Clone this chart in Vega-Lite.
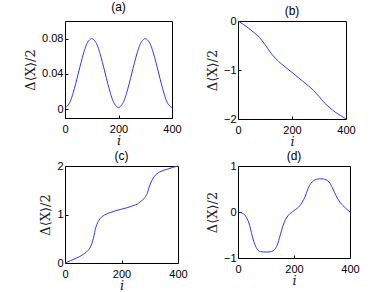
{
  "$schema": "https://vega.github.io/schema/vega-lite/v6.json",
  "autosize": {"type": "pad"},
  "padding": {"left": 24, "top": 0, "right": 0, "bottom": 0},
  "background": "white",
  "config": {
    "view": {"stroke": "black", "strokeWidth": 1},
    "axis": {
      "grid": false,
      "domain": false,
      "labelFont": "Liberation Sans",
      "labelFontSize": 11,
      "labelColor": "black",
      "labelFlush": false,
      "labelOverlap": false,
      "tickColor": "black",
      "tickSize": -3,
      "titleFont": "DejaVu Serif",
      "titleFontWeight": "normal",
      "titleColor": "#222222",
      "minExtent": 0
    },
    "axisX": {"labelPadding": 8, "titleFontStyle": "italic", "titleFontSize": 13, "titlePadding": 0},
    "axisY": {"labelPadding": 5, "titleFontSize": 13, "titlePadding": 4},
    "title": {"font": "Liberation Sans", "fontSize": 12, "fontWeight": "normal", "offset": -3, "color": "black"},
    "line": {"color": "#3333ff", "strokeWidth": 1, "interpolate": "monotone"}
  },
  "datasets": {
    "a": [
      {"i": 0, "v": 0.002}, {"i": 10, "v": 0.004}, {"i": 20, "v": 0.009}, {"i": 30, "v": 0.018}, {"i": 40, "v": 0.029},
      {"i": 50, "v": 0.041}, {"i": 60, "v": 0.053}, {"i": 70, "v": 0.064}, {"i": 80, "v": 0.073}, {"i": 90, "v": 0.078},
      {"i": 100, "v": 0.080}, {"i": 110, "v": 0.078}, {"i": 120, "v": 0.073}, {"i": 130, "v": 0.064}, {"i": 140, "v": 0.053},
      {"i": 150, "v": 0.041}, {"i": 160, "v": 0.029}, {"i": 170, "v": 0.018}, {"i": 180, "v": 0.009}, {"i": 190, "v": 0.004},
      {"i": 200, "v": 0.002}, {"i": 210, "v": 0.004}, {"i": 220, "v": 0.009}, {"i": 230, "v": 0.018}, {"i": 240, "v": 0.029},
      {"i": 250, "v": 0.041}, {"i": 260, "v": 0.053}, {"i": 270, "v": 0.064}, {"i": 280, "v": 0.073}, {"i": 290, "v": 0.078},
      {"i": 300, "v": 0.080}, {"i": 310, "v": 0.078}, {"i": 320, "v": 0.073}, {"i": 330, "v": 0.064}, {"i": 340, "v": 0.053},
      {"i": 350, "v": 0.041}, {"i": 360, "v": 0.029}, {"i": 370, "v": 0.018}, {"i": 380, "v": 0.009}, {"i": 390, "v": 0.004},
      {"i": 400, "v": 0.002}
    ],
    "b": [
      {"i": 0, "v": 0}, {"i": 20, "v": -0.07}, {"i": 40, "v": -0.15}, {"i": 60, "v": -0.24}, {"i": 80, "v": -0.34},
      {"i": 100, "v": -0.48}, {"i": 120, "v": -0.64}, {"i": 140, "v": -0.77}, {"i": 160, "v": -0.87}, {"i": 180, "v": -0.96},
      {"i": 200, "v": -1.05}, {"i": 220, "v": -1.14}, {"i": 240, "v": -1.23}, {"i": 260, "v": -1.32}, {"i": 280, "v": -1.42},
      {"i": 300, "v": -1.54}, {"i": 320, "v": -1.67}, {"i": 340, "v": -1.77}, {"i": 360, "v": -1.86}, {"i": 380, "v": -1.93},
      {"i": 400, "v": -2.0}
    ],
    "c": [
      {"i": 0, "v": 0}, {"i": 20, "v": 0.05}, {"i": 40, "v": 0.10}, {"i": 60, "v": 0.16}, {"i": 80, "v": 0.25},
      {"i": 90, "v": 0.33}, {"i": 100, "v": 0.50}, {"i": 110, "v": 0.75}, {"i": 120, "v": 0.88}, {"i": 130, "v": 0.95},
      {"i": 140, "v": 0.99}, {"i": 160, "v": 1.04}, {"i": 180, "v": 1.08}, {"i": 200, "v": 1.11}, {"i": 220, "v": 1.14},
      {"i": 240, "v": 1.18}, {"i": 260, "v": 1.23}, {"i": 270, "v": 1.28}, {"i": 280, "v": 1.33}, {"i": 290, "v": 1.42},
      {"i": 300, "v": 1.60}, {"i": 310, "v": 1.73}, {"i": 320, "v": 1.81}, {"i": 330, "v": 1.86}, {"i": 340, "v": 1.89},
      {"i": 360, "v": 1.93}, {"i": 380, "v": 1.97}, {"i": 400, "v": 2.0}
    ],
    "d": [
      {"i": 0, "v": 0.0}, {"i": 20, "v": -0.04}, {"i": 30, "v": -0.12}, {"i": 40, "v": -0.26}, {"i": 50, "v": -0.50},
      {"i": 60, "v": -0.70}, {"i": 70, "v": -0.82}, {"i": 80, "v": -0.86}, {"i": 100, "v": -0.87}, {"i": 120, "v": -0.86},
      {"i": 130, "v": -0.82}, {"i": 140, "v": -0.72}, {"i": 150, "v": -0.52}, {"i": 160, "v": -0.31}, {"i": 170, "v": -0.16},
      {"i": 180, "v": -0.07}, {"i": 200, "v": 0.03}, {"i": 220, "v": 0.13}, {"i": 230, "v": 0.22}, {"i": 240, "v": 0.34},
      {"i": 250, "v": 0.51}, {"i": 260, "v": 0.62}, {"i": 270, "v": 0.68}, {"i": 280, "v": 0.71}, {"i": 290, "v": 0.72},
      {"i": 300, "v": 0.72}, {"i": 310, "v": 0.71}, {"i": 320, "v": 0.68}, {"i": 330, "v": 0.61}, {"i": 340, "v": 0.49},
      {"i": 350, "v": 0.36}, {"i": 360, "v": 0.25}, {"i": 370, "v": 0.17}, {"i": 380, "v": 0.11}, {"i": 390, "v": 0.05},
      {"i": 400, "v": 0.0}
    ]
  },
  "columns": 2,
  "bounds": "flush",
  "spacing": {"row": 47, "column": 60},
  "concat": [
    {
      "width": 107, "height": 97, "title": {"text": "(a)", "offset": 7}, "data": {"name": "a"}, "mark": "line",
      "encoding": {
        "x": {"field": "i", "type": "quantitative", "scale": {"domain": [0, 400], "nice": false}, "axis": {"values": [0, 200, 400], "title": "i"}},
        "y": {"field": "v", "type": "quantitative", "scale": {"domain": [-0.01, 0.1], "nice": false, "zero": false}, "axis": {"values": [0, 0.04, 0.08], "format": ".2~f", "title": "Δ⟨X⟩/2"}}
      }
    },
    {
      "width": 108, "height": 98, "title": "(b)", "data": {"name": "b"}, "mark": "line",
      "encoding": {
        "x": {"field": "i", "type": "quantitative", "scale": {"domain": [0, 400], "nice": false}, "axis": {"values": [0, 200, 400], "title": "i"}},
        "y": {"field": "v", "type": "quantitative", "scale": {"domain": [-2, 0], "nice": false, "zero": false}, "axis": {"values": [-2, -1, 0], "format": ".0f", "title": "Δ⟨X⟩/2"}}
      }
    },
    {
      "width": 113, "height": 97, "title": "(c)", "data": {"name": "c"}, "mark": "line",
      "encoding": {
        "x": {"field": "i", "type": "quantitative", "scale": {"domain": [0, 400], "nice": false}, "axis": {"values": [0, 200, 400], "title": "i"}},
        "y": {"field": "v", "type": "quantitative", "scale": {"domain": [0, 2], "nice": false, "zero": false}, "axis": {"values": [0, 1, 2], "format": ".0f", "title": "Δ⟨X⟩/2"}}
      }
    },
    {
      "width": 112, "height": 92, "title": "(d)", "data": {"name": "d"}, "mark": "line",
      "encoding": {
        "x": {"field": "i", "type": "quantitative", "scale": {"domain": [0, 400], "nice": false}, "axis": {"values": [0, 200, 400], "title": "i"}},
        "y": {"field": "v", "type": "quantitative", "scale": {"domain": [-1, 1], "nice": false, "zero": false}, "axis": {"values": [-1, 0, 1], "format": ".0f", "title": "Δ⟨X⟩/2"}}
      }
    }
  ]
}
